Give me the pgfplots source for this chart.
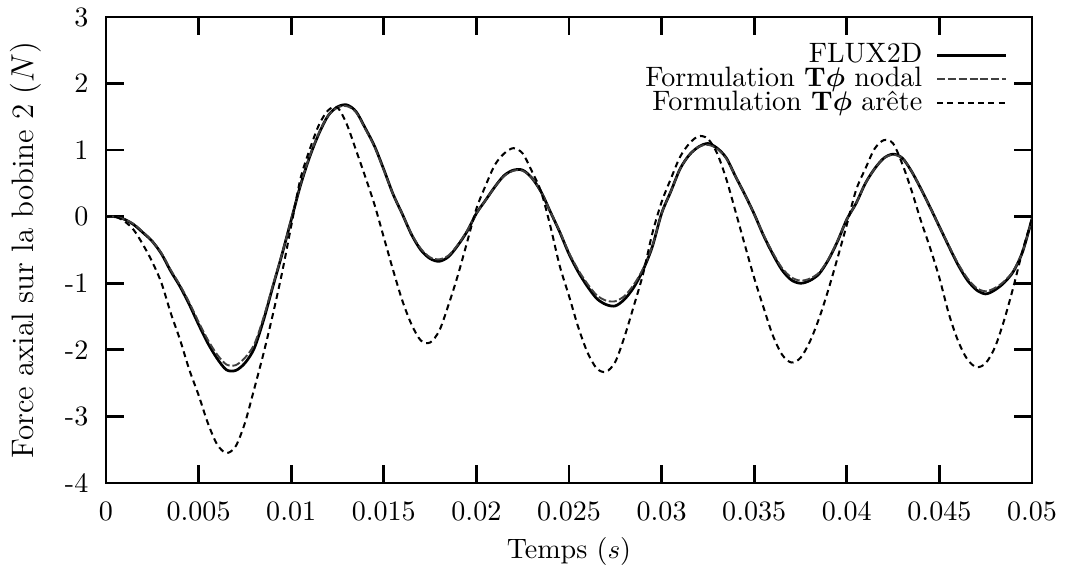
\documentclass[border=0pt]{standalone}
\usepackage{pgfplots}
\usepackage{pgfplotstable}
\pgfplotsset{compat=1.18}
\pgfplotstableread{
x flux nodal arete
0 0 0 0
0.0005 0 0 0
0.001 -0.04 -0.04 -0.07
0.0015 -0.12 -0.11 -0.20
0.002 -0.24 -0.23 -0.42
0.0025 -0.37 -0.37 -0.68
0.003 -0.56 -0.55 -1.00
0.0035 -0.82 -0.80 -1.45
0.004 -1.05 -1.03 -1.85
0.0045 -1.32 -1.29 -2.30
0.005 -1.62 -1.58 -2.68
0.0055 -1.90 -1.85 -3.10
0.006 -2.13 -2.07 -3.42
0.0065 -2.30 -2.22 -3.55
0.007 -2.31 -2.23 -3.45
0.0075 -2.20 -2.12 -3.10
0.008 -1.98 -1.92 -2.59
0.0085 -1.56 -1.52 -2.06
0.009 -1.06 -1.04 -1.48
0.0095 -0.57 -0.56 -0.85
0.010 -0.05 -0.04 -0.14
0.0105 0.47 0.48 0.57
0.011 0.90 0.91 1.01
0.0115 1.25 1.26 1.38
0.012 1.52 1.52 1.60
0.0125 1.65 1.64 1.64
0.013 1.68 1.66 1.39
0.0135 1.58 1.57 1.00
0.014 1.33 1.32 0.60
0.0145 1.06 1.05 0.18
0.015 0.71 0.70 -0.31
0.0155 0.34 0.34 -0.80
0.016 0.04 0.04 -1.26
0.0165 -0.27 -0.26 -1.62
0.017 -0.50 -0.48 -1.86
0.0175 -0.63 -0.61 -1.89
0.018 -0.67 -0.64 -1.71
0.0185 -0.60 -0.58 -1.32
0.019 -0.43 -0.42 -0.88
0.0195 -0.22 -0.21 -0.38
0.020 0.05 0.05 0.12
0.0205 0.25 0.25 0.47
0.021 0.45 0.45 0.78
0.0215 0.62 0.61 0.95
0.022 0.70 0.69 1.03
0.0225 0.70 0.69 0.95
0.023 0.58 0.58 0.68
0.0235 0.37 0.37 0.37
0.024 0.07 0.07 -0.15
0.0245 -0.23 -0.22 -0.74
0.025 -0.56 -0.54 -1.19
0.0255 -0.83 -0.80 -1.66
0.026 -1.05 -1.01 -2.04
0.0265 -1.23 -1.18 -2.28
0.027 -1.32 -1.26 -2.33
0.0275 -1.34 -1.27 -2.18
0.028 -1.24 -1.19 -1.80
0.0285 -1.06 -1.02 -1.34
0.029 -0.80 -0.78 -0.86
0.0295 -0.45 -0.44 -0.25
0.030 0.05 0.05 0.22
0.0305 0.38 0.38 0.57
0.031 0.72 0.72 0.90
0.0315 0.93 0.93 1.10
0.032 1.05 1.05 1.21
0.0325 1.10 1.08 1.17
0.033 1.03 1.02 0.95
0.0335 0.88 0.87 0.56
0.034 0.60 0.60 0.07
0.0345 0.33 0.33 -0.43
0.035 0.04 0.04 -0.92
0.0355 -0.28 -0.27 -1.36
0.036 -0.56 -0.54 -1.78
0.0365 -0.80 -0.77 -2.07
0.037 -0.95 -0.91 -2.19
0.0375 -1.00 -0.96 -2.12
0.038 -0.96 -0.93 -1.88
0.0385 -0.86 -0.84 -1.53
0.039 -0.65 -0.64 -1.10
0.0395 -0.37 -0.36 -0.62
0.040 -0.04 -0.04 -0.12
0.0405 0.20 0.20 0.40
0.041 0.50 0.50 0.72
0.0415 0.72 0.72 1.02
0.042 0.88 0.88 1.15
0.0425 0.94 0.93 1.10
0.043 0.88 0.88 0.79
0.0435 0.68 0.68 0.39
0.044 0.42 0.42 -0.06
0.0445 0.14 0.14 -0.47
0.045 -0.15 -0.15 -0.92
0.0455 -0.44 -0.43 -1.45
0.046 -0.72 -0.70 -1.86
0.0465 -0.95 -0.92 -2.14
0.047 -1.10 -1.07 -2.26
0.0475 -1.16 -1.12 -2.20
0.048 -1.10 -1.07 -1.96
0.0485 -0.99 -0.97 -1.55
0.049 -0.82 -0.81 -1.05
0.0495 -0.52 -0.52 -0.50
0.050 -0.03 -0.03 -0.03
}\datatable
\begin{document}
\begin{tikzpicture}[font=\fontsize{10.4}{12.5}\selectfont]
\begin{axis}[
  name=ax,
  scale only axis,
  width=343pt, height=172.6pt,
  xmin=0, xmax=0.05, ymin=-4, ymax=3,
  xtick={0,0.005,0.01,0.015,0.02,0.025,0.03,0.035,0.04,0.045,0.05},
  xticklabels={0,0.005,0.01,0.015,0.02,0.025,0.03,0.035,0.04,0.045,0.05},
  ytick={-4,-3,-2,-1,0,1,2,3},
  yticklabels={-4,-3,-2,-1,0,1,2,3},
  scaled x ticks=false,
  tick align=inside,
  major tick length=6.5pt,
  axis line style={line width=1pt},
  every tick/.style={line width=1pt, black},
  tick label style={font=\fontsize{10.4}{12.5}\selectfont},
  xticklabel style={yshift=-3.5pt},
  yticklabel style={xshift=-3pt},
  xlabel={Temps ($s$)},
  ylabel={Force axial sur la bobine 2 ($N$)},
  xlabel style={at={(axis description cs:0.5,-0.148)}, anchor=center, font=\fontsize{10.4}{12.5}\selectfont},
  ylabel style={at={(axis description cs:-0.0864,0.5)}, anchor=center, font=\fontsize{11.5}{13.5}\selectfont},
  legend style={at={(0.983,0.955)}, anchor=north east, draw=none, fill=none,
    row sep=0.4pt, column sep=5pt,
    nodes={inner sep=0pt, text height=7pt, text depth=1.5pt, font=\fontsize{10.4}{12.5}\selectfont}},
  legend cell align=right,
  legend plot pos=right,
  legend image code/.code={\draw[#1] (0cm,0cm) -- (0.9cm,0cm);},
]
\addplot[black, line width=1pt, smooth] table[x=x, y=flux] {\datatable};
\addlegendentry{FLUX2D}
\addplot[black!75, line width=0.7pt, dash pattern=on 3pt off 1pt, smooth] table[x=x, y=nodal] {\datatable};
\addlegendentry{Formulation {\boldmath$\mathbf{T}\phi$} nodal}
\addplot[black, line width=0.75pt, dash pattern=on 2.2pt off 1.6pt, smooth] table[x=x, y=arete] {\datatable};
\addlegendentry{Formulation {\boldmath$\mathbf{T}\phi$} arête}
\end{axis}
\pgfresetboundingbox
\path[use as bounding box] ([xshift=-39.26pt, yshift=-34.07pt]ax.south west) rectangle ([xshift=12.96pt, yshift=6.3pt]ax.north east);
\end{tikzpicture}
\end{document}
